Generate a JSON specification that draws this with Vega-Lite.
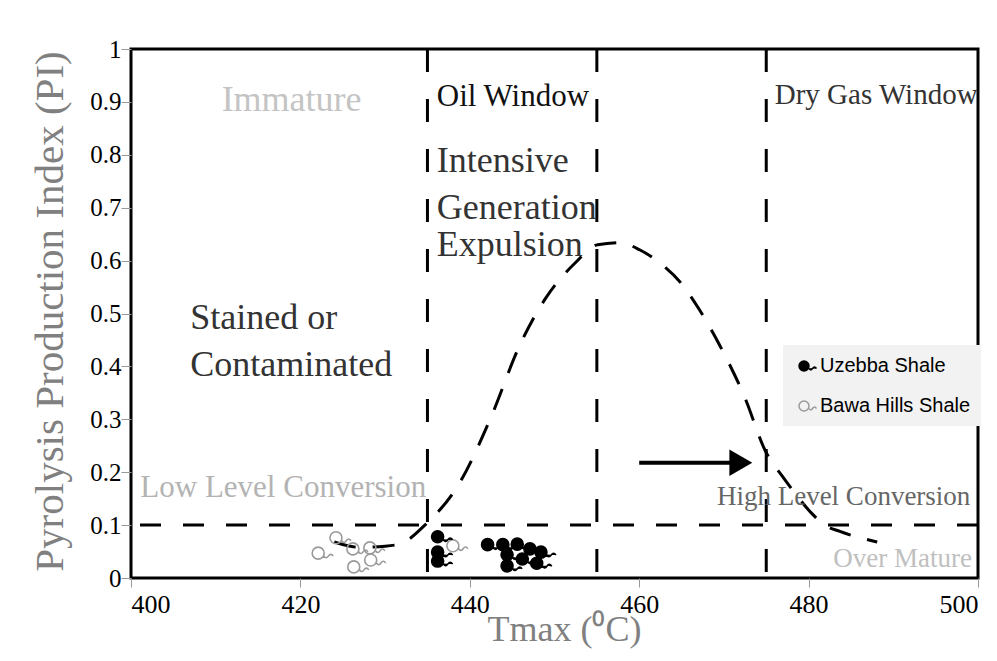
{
  "$schema": "https://vega.github.io/schema/vega-lite/v6.json",
  "autosize": {"type": "none"},
  "width": 847,
  "height": 529,
  "padding": {"left": 131, "top": 49, "right": 19, "bottom": 83},
  "background": "white",
  "config": {
    "view": {"stroke": "black", "strokeWidth": 3},
    "font": "Liberation Serif",
    "axis": {
      "grid": false, "domain": false,
      "tickColor": "#999999", "tickWidth": 1,
      "labelFont": "Liberation Serif", "labelColor": "black",
      "titleFont": "Liberation Serif", "titleFontWeight": "normal", "titleColor": "#808080"
    },
    "axisX": {"tickSize": 9, "labelPadding": 4, "labelFontSize": 26, "titleFontSize": 36},
    "axisY": {"tickSize": 10, "labelPadding": 0, "labelFontSize": 25, "titleFontSize": 41}
  },
  "datasets": {
    "samples": [
      {"tmax": 422.1, "pi": 0.047, "formation": "Bawa Hills Shale"},
      {"tmax": 424.2, "pi": 0.076, "formation": "Bawa Hills Shale"},
      {"tmax": 426.2, "pi": 0.055, "formation": "Bawa Hills Shale"},
      {"tmax": 428.2, "pi": 0.057, "formation": "Bawa Hills Shale"},
      {"tmax": 426.3, "pi": 0.021, "formation": "Bawa Hills Shale"},
      {"tmax": 428.3, "pi": 0.034, "formation": "Bawa Hills Shale"},
      {"tmax": 438.0, "pi": 0.061, "formation": "Bawa Hills Shale"},
      {"tmax": 436.2, "pi": 0.078, "formation": "Uzebba Shale"},
      {"tmax": 436.2, "pi": 0.049, "formation": "Uzebba Shale"},
      {"tmax": 436.2, "pi": 0.032, "formation": "Uzebba Shale"},
      {"tmax": 442.1, "pi": 0.063, "formation": "Uzebba Shale"},
      {"tmax": 443.9, "pi": 0.063, "formation": "Uzebba Shale"},
      {"tmax": 445.6, "pi": 0.064, "formation": "Uzebba Shale"},
      {"tmax": 447.1, "pi": 0.055, "formation": "Uzebba Shale"},
      {"tmax": 448.4, "pi": 0.049, "formation": "Uzebba Shale"},
      {"tmax": 444.4, "pi": 0.044, "formation": "Uzebba Shale"},
      {"tmax": 444.4, "pi": 0.023, "formation": "Uzebba Shale"},
      {"tmax": 446.2, "pi": 0.036, "formation": "Uzebba Shale"},
      {"tmax": 447.9, "pi": 0.028, "formation": "Uzebba Shale"}
    ],
    "curve": [
      {"tmax": 424.0, "pi": 0.068},
      {"tmax": 427.0, "pi": 0.058},
      {"tmax": 430.0, "pi": 0.060},
      {"tmax": 432.0, "pi": 0.066},
      {"tmax": 434.7, "pi": 0.100},
      {"tmax": 438.8, "pi": 0.180},
      {"tmax": 442.4, "pi": 0.300},
      {"tmax": 445.9, "pi": 0.440},
      {"tmax": 449.0, "pi": 0.530},
      {"tmax": 452.4, "pi": 0.595},
      {"tmax": 455.1, "pi": 0.630},
      {"tmax": 457.7, "pi": 0.634},
      {"tmax": 460.1, "pi": 0.620},
      {"tmax": 462.5, "pi": 0.595},
      {"tmax": 464.8, "pi": 0.560},
      {"tmax": 467.0, "pi": 0.510},
      {"tmax": 469.5, "pi": 0.440},
      {"tmax": 472.5, "pi": 0.340},
      {"tmax": 474.9, "pi": 0.240},
      {"tmax": 477.0, "pi": 0.190},
      {"tmax": 478.4, "pi": 0.160},
      {"tmax": 480.2, "pi": 0.125},
      {"tmax": 481.9, "pi": 0.100},
      {"tmax": 483.7, "pi": 0.088},
      {"tmax": 488.1, "pi": 0.068}
    ],
    "windows": [{"tmax": 435}, {"tmax": 455}, {"tmax": 475}],
    "notes": [
      {"text": "Immature", "tmax": 410.7, "pi": 0.883, "kind": "immature"},
      {"text": "Oil Window", "tmax": 436.1, "pi": 0.892, "kind": "oil"},
      {"text": "Dry Gas Window", "tmax": 476.0, "pi": 0.896, "kind": "gas"},
      {"text": "Intensive", "tmax": 436.1, "pi": 0.767, "kind": "big"},
      {"text": "Generation", "tmax": 436.1, "pi": 0.678, "kind": "big"},
      {"text": "Expulsion", "tmax": 436.1, "pi": 0.608, "kind": "big"},
      {"text": "Stained or", "tmax": 407.0, "pi": 0.470, "kind": "big"},
      {"text": "Contaminated", "tmax": 407.0, "pi": 0.381, "kind": "big"},
      {"text": "Low Level Conversion", "tmax": 401.1, "pi": 0.153, "kind": "low"},
      {"text": "High Level Conversion", "tmax": 499.1, "pi": 0.138, "kind": "high"},
      {"text": "Over Mature", "tmax": 499.3, "pi": 0.021, "kind": "over"}
    ],
    "arrow": [
      {"tmax": 460.0, "pi": 0.218, "end": 471.0}
    ],
    "arrowhead": [
      {"tmax": 472.0, "pi": 0.218}
    ]
  },
  "layer": [
    {
      "data": {"name": "windows"},
      "mark": {"type": "rule", "color": "black", "strokeWidth": 3, "strokeDash": [23, 27]},
      "encoding": {
        "x": {"field": "tmax", "type": "quantitative", "scale": {"domain": [400, 500], "nice": false, "zero": false},
          "axis": {"values": [400, 420, 440, 460, 480, 500], "format": "d",
            "title": "Tmax (⁰C)", "titleX": 433, "titleY": 62, "titleBaseline": "alphabetic", "titleAlign": "center"}}
      }
    },
    {
      "data": {"values": [{"pi": 0.1}]},
      "mark": {"type": "rule", "color": "black", "strokeWidth": 3, "strokeDash": [21, 22]},
      "encoding": {
        "y": {"field": "pi", "type": "quantitative", "scale": {"domain": [0, 1], "nice": false},
          "axis": {"values": [0, 0.1, 0.2, 0.3, 0.4, 0.5, 0.6, 0.7, 0.8, 0.9, 1], "format": "~g",
            "title": "Pyrolysis Production Index (PI)", "titleX": -69, "titleY": 262, "titleAngle": -90, "titleBaseline": "alphabetic", "titleAlign": "center"}}
      }
    },
    {
      "data": {"name": "curve"},
      "mark": {"type": "line", "color": "black", "strokeWidth": 3, "strokeDash": [22, 17], "interpolate": "monotone"},
      "encoding": {
        "x": {"field": "tmax", "type": "quantitative"},
        "y": {"field": "pi", "type": "quantitative"}
      }
    },
    {
      "data": {"name": "arrow"},
      "mark": {"type": "rule", "color": "black", "strokeWidth": 4},
      "encoding": {
        "x": {"field": "tmax", "type": "quantitative"},
        "x2": {"field": "end"},
        "y": {"field": "pi", "type": "quantitative"}
      }
    },
    {
      "data": {"name": "arrowhead"},
      "mark": {"type": "point", "shape": "triangle-right", "filled": true, "color": "black", "size": 700, "opacity": 1},
      "encoding": {
        "x": {"field": "tmax", "type": "quantitative"},
        "y": {"field": "pi", "type": "quantitative"}
      }
    },
    {
      "data": {"name": "notes"},
      "transform": [{"filter": "datum.kind === 'immature'"}],
      "mark": {"type": "text", "align": "left", "baseline": "alphabetic", "font": "Liberation Serif", "fontSize": 36, "color": "#c4c4c4"},
      "encoding": {"x": {"field": "tmax", "type": "quantitative"}, "y": {"field": "pi", "type": "quantitative"}, "text": {"field": "text"}}
    },
    {
      "data": {"name": "notes"},
      "transform": [{"filter": "datum.kind === 'oil'"}],
      "mark": {"type": "text", "align": "left", "baseline": "alphabetic", "font": "Liberation Serif", "fontSize": 31, "color": "#111111"},
      "encoding": {"x": {"field": "tmax", "type": "quantitative"}, "y": {"field": "pi", "type": "quantitative"}, "text": {"field": "text"}}
    },
    {
      "data": {"name": "notes"},
      "transform": [{"filter": "datum.kind === 'gas'"}],
      "mark": {"type": "text", "align": "left", "baseline": "alphabetic", "font": "Liberation Serif", "fontSize": 29, "color": "#333333"},
      "encoding": {"x": {"field": "tmax", "type": "quantitative"}, "y": {"field": "pi", "type": "quantitative"}, "text": {"field": "text"}}
    },
    {
      "data": {"name": "notes"},
      "transform": [{"filter": "datum.kind === 'big'"}],
      "mark": {"type": "text", "align": "left", "baseline": "alphabetic", "font": "Liberation Serif", "fontSize": 36, "color": "#333333"},
      "encoding": {"x": {"field": "tmax", "type": "quantitative"}, "y": {"field": "pi", "type": "quantitative"}, "text": {"field": "text"}}
    },
    {
      "data": {"name": "notes"},
      "transform": [{"filter": "datum.kind === 'low'"}],
      "mark": {"type": "text", "align": "left", "baseline": "alphabetic", "font": "Liberation Serif", "fontSize": 31, "color": "#b3b3b3"},
      "encoding": {"x": {"field": "tmax", "type": "quantitative"}, "y": {"field": "pi", "type": "quantitative"}, "text": {"field": "text"}}
    },
    {
      "data": {"name": "notes"},
      "transform": [{"filter": "datum.kind === 'high'"}],
      "mark": {"type": "text", "align": "right", "baseline": "alphabetic", "font": "Liberation Serif", "fontSize": 27, "color": "#666666"},
      "encoding": {"x": {"field": "tmax", "type": "quantitative"}, "y": {"field": "pi", "type": "quantitative"}, "text": {"field": "text"}}
    },
    {
      "data": {"name": "notes"},
      "transform": [{"filter": "datum.kind === 'over'"}],
      "mark": {"type": "text", "align": "right", "baseline": "alphabetic", "font": "Liberation Serif", "fontSize": 27, "color": "#c0c0c0"},
      "encoding": {"x": {"field": "tmax", "type": "quantitative"}, "y": {"field": "pi", "type": "quantitative"}, "text": {"field": "text"}}
    },
    {
      "data": {"name": "samples"},
      "mark": {
        "type": "point",
        "shape": "M-0.5,0A0.5,0.5 0 1 1 0.5,0A0.5,0.5 0 1 1 -0.5,0Z M0.45,0.2Q0.65,0.55 0.85,0.25Q1.05,-0.05 1.25,0.25",
        "size": 576,
        "strokeWidth": 1.6,
        "opacity": 1,
        "filled": true
      },
      "encoding": {
        "x": {"field": "tmax", "type": "quantitative"},
        "y": {"field": "pi", "type": "quantitative"},
        "fill": {"field": "formation", "type": "nominal",
          "scale": {"domain": ["Uzebba Shale", "Bawa Hills Shale"], "range": ["black", "transparent"]},
          "legend": {
            "title": null, "orient": "none", "legendX": 652, "legendY": 296,
            "fillColor": "#f2f2f2", "padding": 10, "rowPadding": 19,
            "symbolType": "M-0.5,0A0.5,0.5 0 1 1 0.5,0A0.5,0.5 0 1 1 -0.5,0Z M0.45,0.2Q0.65,0.55 0.85,0.25Q1.05,-0.05 1.25,0.25",
            "symbolSize": 400, "symbolStrokeWidth": 1.5, "labelOffset": 5,
            "labelFont": "Liberation Sans", "labelFontSize": 20, "labelLimit": 300,
            "encode": {"labels": {"update": {
              "font": {"value": "Liberation Sans"},
              "fontSize": {"value": 20},
              "fill": {"signal": "datum.label === 'Uzebba Shale' ? '#000000' : '#aaaaaa'"}}}}
          }},
        "stroke": {"field": "formation", "type": "nominal",
          "scale": {"domain": ["Uzebba Shale", "Bawa Hills Shale"], "range": ["black", "#9a9a9a"]}}
      }
    }
  ]
}
